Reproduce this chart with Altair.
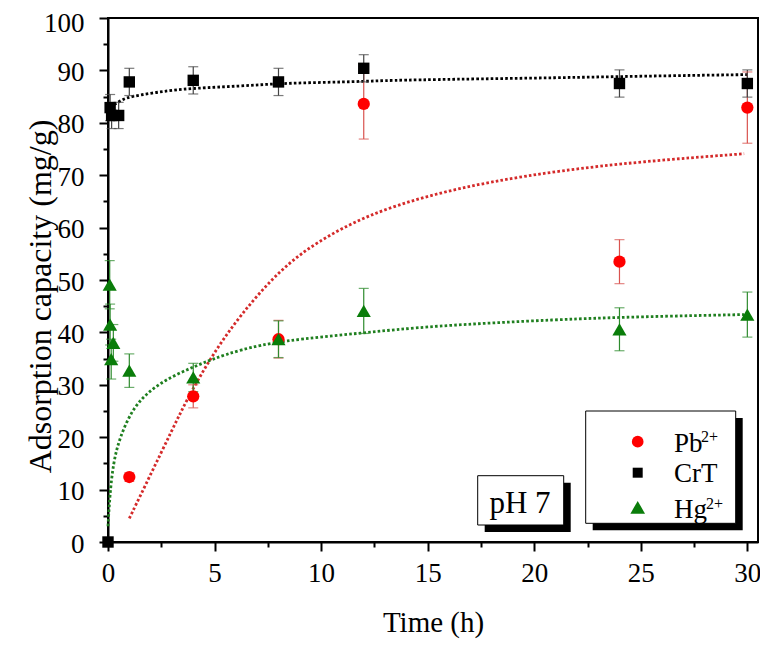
import altair as alt
import pandas as pd

FONT = "Liberation Serif"

# ---------------- data ----------------
series = ["Pb", "CrT", "Hg"]

pb_t = [1, 4, 8, 12, 24, 30]
pb_q = [12.4, 27.8, 38.7, 83.6, 53.5, 82.9]
pb_err = [0.8, 2.2, 3.6, 6.7, 4.2, 6.8]

crt_t = [0, 0.1, 0.17, 0.5, 1, 4, 8, 12, 24, 30]
crt_q = [0, 82.9, 81.4, 81.4, 87.8, 88.1, 87.8, 90.4, 87.5, 87.5]
crt_err = [0, 2.5, 2.5, 2.5, 2.6, 2.6, 2.6, 2.6, 2.6, 2.6]

hg_t = [0.08, 0.1, 0.25, 0.15, 1, 4, 8, 12, 24, 30]
hg_q = [49.1, 41.5, 38.0, 34.9, 32.7, 31.4, 38.7, 44.1, 40.6, 43.4]
hg_err = [4.6, 3.9, 3.5, 3.8, 3.2, 2.7, 3.5, 4.3, 4.1, 4.3]

# fitted (dotted) curves
pb_fit_t = [1, 2, 3, 3.7, 4.86, 6.2, 8.07, 9.8, 12.15, 15.05, 18, 21.24, 25, 29.85]
pb_fit_q = [4.5, 12.9, 21.3, 27.2, 35.5, 43.3, 52.0, 57.3, 62.4, 66.2, 68.8, 70.9, 72.6, 74.1]

crt_fit_t = [0.1, 0.5, 0.86, 1.5, 2.27, 3, 4, 6.2, 8, 10, 12, 13.2, 16, 21.2, 25, 30]
crt_fit_q = [83.0, 84.0, 84.8, 85.3, 85.8, 86.2, 86.6, 87.0, 87.5, 87.7, 87.9, 88.1, 88.3, 88.6, 88.9, 89.2]

hg_fit_t = [0, 0.08, 0.24, 0.55, 1.18, 2.04, 3.0, 4.0, 4.9, 6.2, 8.07, 12, 15.05, 21.24, 25, 29.85]
hg_fit_q = [3.0, 8.6, 15.0, 20.0, 25.7, 29.2, 31.6, 33.4, 34.9, 36.7, 38.4, 39.9, 41.2, 42.5, 43.0, 43.4]

# ---------------- styles ----------------
marker_color = {"Pb": "#ff0000", "CrT": "#000000", "Hg": "#0a7d0a"}
err_color = {"Pb": "#d9534f", "CrT": "#444444", "Hg": "#2e8b2e"}
fit_color = {"Pb": "#d42a2a", "CrT": "#000000", "Hg": "#1f7f1f"}
shape = {"Pb": "circle", "CrT": "square", "Hg": "triangle-up"}
msize = {"Pb": 150, "CrT": 130, "Hg": 200}

rows = []
for s, ts, qs, es in [("Pb", pb_t, pb_q, pb_err), ("CrT", crt_t, crt_q, crt_err), ("Hg", hg_t, hg_q, hg_err)]:
    for t, q, e in zip(ts, qs, es):
        rows.append(dict(series=s, t=t, q=q, lo=q - e, hi=q + e,
                         mc=marker_color[s], ec=err_color[s], shp=shape[s], sz=msize[s]))
pts = pd.DataFrame(rows)
errs = pts[pts["hi"] > pts["lo"]]

frows = []
for s, ts, qs in [("Pb", pb_fit_t, pb_fit_q), ("CrT", crt_fit_t, crt_fit_q), ("Hg", hg_fit_t, hg_fit_q)]:
    for t, q in zip(ts, qs):
        frows.append(dict(series=s, t=t, q=q, fc=fit_color[s]))
fits = pd.DataFrame(frows)

x_vals = [v / 2 for v in range(0, 61, 5)]
y_vals = list(range(0, 101, 5))

common_axis = dict(
    grid=False, domainColor="black", domainWidth=2, tickColor="black", tickWidth=2,
    labelFont=FONT, labelFontSize=27, labelColor="black", labelFlush=False,
    titleFont=FONT, titleFontWeight="normal", titleColor="black",
)

xaxis = alt.Axis(
    values=x_vals,
    labelExpr="datum.value % 5 == 0 ? datum.label : ''",
    tickSize={"condition": {"test": "datum.value % 5 == 0", "value": 9}, "value": 5},
    labelPadding=9,
    titleFontSize=29,
    titleX=325, titleY=89, titleAlign="center", titleBaseline="alphabetic",
    **common_axis,
)
yaxis = alt.Axis(
    values=y_vals,
    labelExpr="datum.value % 10 == 0 ? datum.label : ''",
    tickSize={"condition": {"test": "datum.value % 10 == 0", "value": 9}, "value": 5},
    labelPadding=15,
    labelOffset={"condition": {"test": "datum.value == 100", "value": 5}, "value": 2},
    titleFontSize=32,
    titleX=-58, titleY=278, titleAngle=270, titleAlign="center", titleBaseline="alphabetic",
    **common_axis,
)

xs = alt.Scale(domain=[0, 30.5], nice=False, zero=False)
ys = alt.Scale(domain=[0, 100], nice=False, zero=False)


def X():
    return alt.X("t:Q", scale=xs, axis=xaxis, title="Time (h)")


def Y(f):
    return alt.Y(f"{f}:Q", scale=ys, axis=yaxis, title="Adsorption capacity (mg/g)")


fit_layer = alt.Chart(fits).mark_line(
    strokeDash=[2.6, 2.2], strokeWidth=2.8, interpolate="basis"
).encode(x=X(), y=Y("q"), color=alt.Color("fc:N", scale=None), detail="series:N")

err_rule = alt.Chart(errs).mark_rule(strokeWidth=1.2).encode(
    x=X(), y=Y("lo"), y2="hi:Q", color=alt.Color("ec:N", scale=None))
cap_lo = alt.Chart(errs).mark_tick(orient="horizontal", size=10, thickness=1.2).encode(
    x=X(), y=Y("lo"), color=alt.Color("ec:N", scale=None))
cap_hi = alt.Chart(errs).mark_tick(orient="horizontal", size=10, thickness=1.2).encode(
    x=X(), y=Y("hi"), color=alt.Color("ec:N", scale=None))

point_layer = alt.Chart(pts).mark_point(filled=True, opacity=1, strokeWidth=0).encode(
    x=X(), y=Y("q"),
    color=alt.Color("mc:N", scale=None),
    shape=alt.Shape("shp:N", scale=None),
    size=alt.Size("sz:Q", scale=None),
)

one = pd.DataFrame({"a": [0]})

# annotation positions below are measured from y = 15 px of the page; plot top is at 18 px
DY = -3


def box(x1, x2, y1, y2, fill, stroke=None):
    kw = dict(fill=fill)
    if stroke:
        kw.update(stroke=stroke, strokeWidth=1)
    return alt.Chart(one).mark_rect(**kw).encode(
        x=alt.value(x1), x2=alt.value(x2), y=alt.value(y1 + DY), y2=alt.value(y2 + DY))


def txt(s, x, y, size, align="left"):
    return alt.Chart(one).mark_text(font=FONT, fontSize=size, align=align, baseline="alphabetic",
                                    color="black").encode(
        x=alt.value(x), y=alt.value(y + DY), text=alt.value(s))


deco = [
    # pH box with shadow
    box(376.7, 462.7, 467.7, 517, "black"),
    box(369.7, 455.7, 460.7, 510, "white", "black"),
    txt("pH 7", 412, 498.3, 31, "center"),
    # legend box with shadow
    box(484.7, 634.7, 403, 515.3, "black"),
    box(477.7, 627.7, 396, 508.3, "white", "black"),
]

legend_y = {"Pb": 426.7, "CrT": 457.7, "Hg": 492.3}
legend_base = {"Pb": 436.7, "CrT": 466.7, "Hg": 503.3}
legend_size = {"Pb": 137, "CrT": 100, "Hg": 215}
legend_main = {"Pb": "Pb", "CrT": "CrT", "Hg": "Hg"}
legend_sup = {"Pb": "2+", "CrT": "", "Hg": "2+"}
legend_sup_x = {"Pb": 593, "CrT": 0, "Hg": 598}
legend_sup_base = {"Pb": 426.7, "CrT": 0, "Hg": 494}

for s in series:
    deco.append(alt.Chart(one).mark_point(filled=True, opacity=1, strokeWidth=0,
                                          shape=shape[s], color=marker_color[s],
                                          size=legend_size[s]).encode(
        x=alt.value(529.7), y=alt.value(legend_y[s] + DY)))
    deco.append(txt(legend_main[s], 566, legend_base[s], 27))
    if legend_sup[s]:
        deco.append(txt(legend_sup[s], legend_sup_x[s], legend_sup_base[s], 16))

chart = alt.layer(fit_layer, err_rule, cap_lo, cap_hi, point_layer, *deco).properties(
    width=650, height=524,
    autosize=alt.AutoSizeParams(type="none"),
    padding={"left": 100, "top": 10, "right": 2, "bottom": 100},
).configure_view(stroke="black", strokeWidth=2)

chart.save("out.html", embed_options={"renderer": "svg", "actions": False})
